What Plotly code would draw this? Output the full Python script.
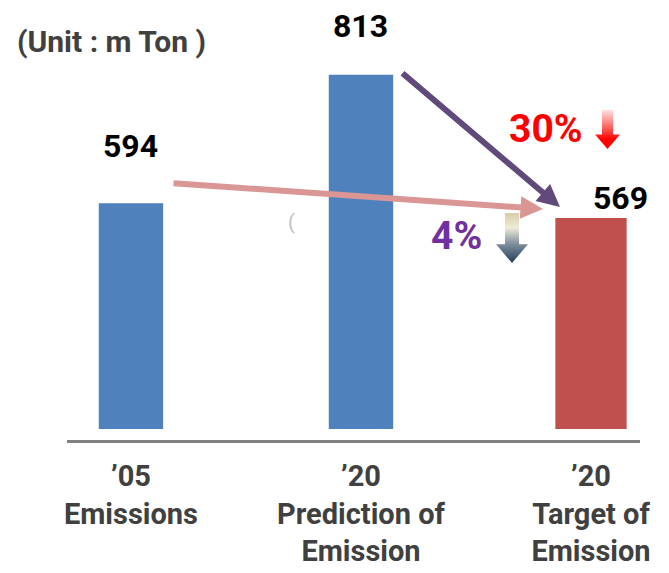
import base64
import plotly.graph_objects as go

# ---- data -------------------------------------------------------------
categories = ["'05 Emissions", "'20 Prediction of Emission", "'20 Target of Emission"]
tick_labels = ["’05<br>Emissions", "’20<br>Prediction of<br>Emission", "’20<br>Target of<br>Emission"]
emissions = [594, 813, 569]          # million ton CO2-eq
unit_label = "(Unit : m Ton )"
cut_vs_2005 = "4%"
cut_vs_forecast = "30%"

# ---- style ------------------------------------------------------------
W, H = 669, 573
M_L, M_R, M_T, M_B = 67, 29, 60, 132
BLUE, RED = "#4F81BD", "#C0504D"
bar_colors = [BLUE, BLUE, RED]
bar_widths = [0.28, 0.28, 0.31]
FONT = "Roboto, Noto Sans, sans-serif"
DARK = "#404040"


def px(x, y):
    """Pixel position on the page -> paper coordinates."""
    return (x - M_L) / (W - M_L - M_R), (H - M_B - y) / (H - M_T - M_B)


def arrow_svg(stops):
    """Down-pointing block arrow with a vertical gradient fill."""
    stop_xml = "".join(
        f'<stop offset="{o}" stop-color="{c}"/>' for o, c in stops
    )
    svg = (
        '<svg xmlns="http://www.w3.org/2000/svg" viewBox="0 0 100 160" '
        'preserveAspectRatio="none" width="100" height="160">'
        f'<defs><linearGradient id="g" x1="0" y1="0" x2="0" y2="1">{stop_xml}'
        '</linearGradient></defs>'
        '<polygon points="28,0 72,0 72,100 100,100 50,160 0,100 28,100" fill="url(#g)"/>'
        '</svg>'
    )
    return "data:image/svg+xml;base64," + base64.b64encode(svg.encode()).decode()


fig = go.Figure(
    go.Bar(
        x=categories,
        y=emissions,
        marker=dict(color=bar_colors, line=dict(width=0)),
        width=bar_widths,
        hoverinfo="skip",
    )
)

annotations = []

# value labels above the bars
label_offsets = [(0, 36), (0, 28), (29, -1)]
for cat, val, (dx, dy) in zip(categories, emissions, label_offsets):
    annotations.append(dict(
        x=cat, y=val, xref="x", yref="y", text=f"{val}", showarrow=False,
        xanchor="center", yanchor="bottom", xshift=dx, yshift=dy,
        font=dict(family=FONT, size=32, color="black", weight=700),
    ))

# trend arrows into the target bar
annotations.append(dict(
    x=categories[2], y=emissions[2], xref="x", yref="y", text="",
    showarrow=True, arrowhead=2, arrowsize=0.75, arrowwidth=6,
    arrowcolor="#D99694", ax=-371, ay=-26, xshift=-48, yshift=9,
))
annotations.append(dict(
    x=categories[2], y=emissions[2], xref="x", yref="y", text="",
    showarrow=True, arrowhead=2, arrowsize=0.75, arrowwidth=6,
    arrowcolor="#604A7B", ax=-159, ay=-135, xshift=-31, yshift=11,
))

# reduction percentages
x, y = px(546, 129)
annotations.append(dict(
    x=x, y=y, xref="paper", yref="paper", text=cut_vs_forecast, showarrow=False,
    xanchor="center", yanchor="middle",
    font=dict(family=FONT, size=39, color="#FF0000", weight=700),
))
x, y = px(456, 236)
annotations.append(dict(
    x=x, y=y, xref="paper", yref="paper", text=cut_vs_2005, showarrow=False,
    xanchor="center", yanchor="middle",
    font=dict(family=FONT, size=39, color="#7030A0", weight=700),
))

# unit note
x, y = px(15, 41)
annotations.append(dict(
    x=x, y=y, xref="paper", yref="paper", text=unit_label, showarrow=False,
    xanchor="left", yanchor="middle",
    font=dict(family=FONT, size=30, color=DARK, weight=700),
))

# faint bracket peeking out beside the middle bar
x, y = px(291, 222)
annotations.append(dict(
    x=x, y=y, xref="paper", yref="paper", text="(", showarrow=False,
    xanchor="center", yanchor="middle",
    font=dict(family=FONT, size=20, color="#BFBFBF"),
))

# gradient block arrows next to the percentages
images = []
x0, y0 = px(595, 110)
x1, y1 = px(620, 149)
images.append(dict(
    source=arrow_svg([(0, "#FFE0E0"), (0.45, "#FF6060"), (0.75, "#FF0000"), (1, "#FF0000")]),
    xref="paper", yref="paper", x=x0, y=y0, sizex=x1 - x0, sizey=y0 - y1,
    xanchor="left", yanchor="top", sizing="stretch", layer="above",
))
x0, y0 = px(496, 213)
x1, y1 = px(528, 263)
images.append(dict(
    source=arrow_svg([(0, "#D6CDA8"), (0.3, "#EEEADA"), (0.6, "#8592A0"), (1, "#203D5A")]),
    xref="paper", yref="paper", x=x0, y=y0, sizex=x1 - x0, sizey=y0 - y1,
    xanchor="left", yanchor="top", sizing="stretch", layer="above",
))

fig.update_layout(
    width=W, height=H,
    margin=dict(l=M_L, r=M_R, t=M_T, b=M_B, pad=0),
    paper_bgcolor="white", plot_bgcolor="white",
    showlegend=False,
    annotations=annotations,
    images=images,
    xaxis=dict(
        type="category", range=[-0.278, 2.213],
        showline=True, linecolor="#808080", linewidth=3,
        ticks="", showgrid=False, zeroline=False,
        tickvals=categories, ticktext=tick_labels,
        tickfont=dict(family=FONT, size=29, color=DARK, weight=700),
        ticklabelstandoff=8, automargin=False,
        anchor="free", position=0,
    ),
    yaxis=dict(
        domain=[0.0315, 1], range=[210, 838], visible=False,
        fixedrange=True, automargin=False,
    ),
)

fig.write_html("out.html", config={"displayModeBar": False})
